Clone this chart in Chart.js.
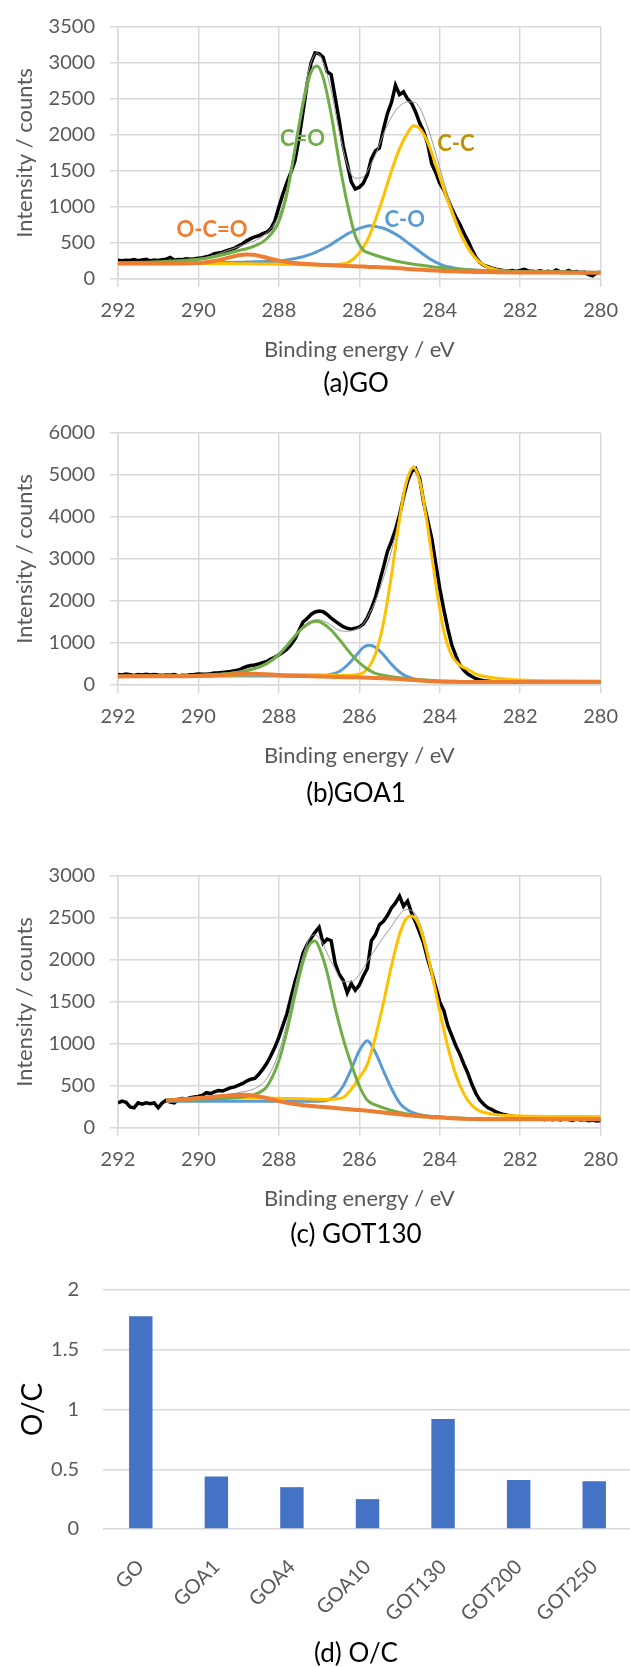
<!DOCTYPE html>
<html>
<head>
<meta charset="utf-8">
<title>C1s XPS spectra and O/C ratio</title>
<script src="https://cdn.jsdelivr.net/npm/chart.js@4.4.1/dist/chart.umd.min.js"></script>
<style>
  html, body { margin: 0; padding: 0; background: #fff; width: 630px; height: 1667px; overflow: hidden; }
  body { position: relative; }
  canvas { position: absolute; left: 0; }
  .caption { position: absolute; left: 0; width: 712px; text-align: center; font-family: Lato, "Open Sans", sans-serif; font-size: 26px; line-height: 30px; color: #000; }
</style>
</head>
<body>
<canvas id="chartGO" width="630" height="395" style="top:0px"></canvas>
<div class="caption" style="top:367px">(a)GO</div>
<canvas id="chartGOA1" width="630" height="395" style="top:406px"></canvas>
<div class="caption" style="top:777px">(b)GOA1</div>
<canvas id="chartGOT130" width="630" height="395" style="top:849px"></canvas>
<div class="caption" style="top:1218px">(c) GOT130</div>
<canvas id="chartOC" width="640" height="417" style="top:1250px"></canvas>
<div class="caption" style="top:1637px">(d) O/C</div>

<script>
// Binding energy of the measured points (same for all three spectra)
const rawEnergy = [
  292.0, 291.9, 291.8, 291.7, 291.6, 291.5, 291.4, 291.3, 291.2, 291.1,
  291.0, 290.9, 290.8, 290.7, 290.6, 290.5, 290.4, 290.3, 290.2, 290.1,
  290.0, 289.9, 289.8, 289.7, 289.6, 289.5, 289.4, 289.3, 289.2, 289.1,
  289.0, 288.9, 288.8, 288.7, 288.6, 288.5, 288.4, 288.3, 288.2, 288.1,
  288.0, 287.9, 287.8, 287.7, 287.6, 287.5, 287.4, 287.3, 287.2, 287.1,
  287.0, 286.9, 286.8, 286.7, 286.6, 286.5, 286.4, 286.3, 286.2, 286.1,
  286.0, 285.9, 285.8, 285.7, 285.6, 285.5, 285.4, 285.3, 285.2, 285.1,
  285.0, 284.9, 284.8, 284.7, 284.6, 284.5, 284.4, 284.3, 284.2, 284.1,
  284.0, 283.9, 283.8, 283.7, 283.6, 283.5, 283.4, 283.3, 283.2, 283.1,
  283.0, 282.9, 282.8, 282.7, 282.6, 282.5, 282.4, 282.3, 282.2, 282.1,
  282.0, 281.9, 281.8, 281.7, 281.6, 281.5, 281.4, 281.3, 281.2, 281.1,
  281.0, 280.9, 280.8, 280.7, 280.6, 280.5, 280.4, 280.3, 280.2, 280.1,
  280.0
];

// (a) GO - measured counts
const rawGO = [
  260, 255, 262, 258, 270, 255, 265, 272, 250, 262,
  258, 266, 275, 300, 262, 270, 268, 282, 276, 280,
  290, 295, 310, 325, 352, 360, 372, 395, 410, 430,
  460, 490, 530, 560, 585, 600, 630, 650, 700, 810,
  1000, 1180, 1340, 1480, 1640, 1950, 2320, 2700, 3000, 3140,
  3130, 3080, 2880, 2840, 2520, 2200, 1850, 1600, 1350, 1250,
  1275, 1330, 1450, 1670, 1780, 1820, 2080, 2300, 2450, 2690,
  2560, 2600, 2500, 2440, 2320, 2170, 2050, 1880, 1600, 1480,
  1330, 1240, 1110, 980, 860, 760, 640, 530, 410, 300,
  230, 190, 170, 150, 135, 125, 115, 110, 118, 105,
  120, 135, 112, 108, 100, 115, 98, 108, 95, 125,
  100, 90, 118, 95, 105, 88, 95, 60, 45, 85,
  95
];

// (a) GO - fitted curves
const fitEnergyGO = [292, 291, 290, 289.6, 289.3, 289, 288.8, 288.6, 288.3, 288,
  287.8, 287.6, 287.4, 287.2, 287.05, 286.9, 286.7, 286.5, 286.3, 286.1,
  285.9, 285.75, 285.6, 285.4, 285.2, 285, 284.8, 284.65, 284.5, 284.3, 284.1,
  283.9, 283.7, 283.5, 283.3, 283.1, 282.9, 282.6, 282.2, 281.5, 280.8, 280];
const envGO = [230, 240, 280, 330, 390, 450, 490, 530, 640, 880,
  1250, 1870, 2520, 3010, 3140, 3010, 2620, 2050, 1590, 1400,
  1420, 1550, 1720, 2010, 2250, 2400, 2460, 2460, 2380, 2110, 1750,
  1350, 1000, 700, 470, 310, 210, 140, 110, 100, 96, 93];
const coGO = [225, 240, 275, 310, 350, 395, 420, 460, 560, 800,
  1185, 1795, 2431, 2873, 2960, 2800, 2288, 1626, 1050, 600,
  400, 360, 330, 295, 265, 240, 220, 205, 195, 180, 165,
  155, 145, 135, 128, 122, 117, 110, 104, 98, 95, 92];
const cohGO = [215, 218, 222, 225, 228, 232, 235, 238, 243, 250,
  265, 285, 310, 345, 380, 420, 480, 555, 625, 680,
  720, 738, 730, 705, 655, 590, 505, 445, 380, 300, 235,
  185, 160, 140, 130, 122, 117, 110, 104, 98, 95, 92];
const ccGO = [212, 212, 215, 215, 214, 213, 212, 210, 207, 204,
  202, 200, 198, 196, 195, 194, 195, 205, 225, 300,
  440, 600, 820, 1150, 1500, 1810, 2030, 2130, 2090, 1900, 1590,
  1250, 930, 650, 430, 280, 190, 130, 105, 96, 93, 90];
const oocGO = [215, 215, 222, 250, 290, 330, 342, 335, 295, 255,
  235, 222, 212, 205, 200, 196, 190, 185, 180, 176,
  172, 168, 165, 160, 155, 148, 140, 135, 130, 123, 117,
  112, 108, 104, 101, 98, 96, 94, 92, 90, 88, 87];

// (b) GOA1 - measured counts
const rawGOA1 = [
  250, 240, 262, 245, 228, 250, 238, 255, 240, 252,
  236, 228, 240, 235, 250, 215, 232, 228, 245, 250,
  262, 255, 258, 270, 285, 290, 300, 310, 320, 340,
  355, 400, 440, 465, 475, 500, 530, 560, 620, 660,
  720, 780, 850, 960, 1100, 1300, 1500, 1580, 1680, 1740,
  1760, 1745, 1680, 1590, 1520, 1450, 1390, 1350, 1330, 1350,
  1380, 1450, 1600, 1820, 2080, 2450, 2800, 3180, 3420, 3700,
  4050, 4480, 4850, 5080, 5150, 4920, 4350, 3920, 3500, 2900,
  2300, 1800, 1350, 950, 700, 480, 350, 260, 200, 150,
  120, 100, 90, 82, 80, 78, 75, 78, 74, 72,
  75, 70, 73, 72, 70, 74, 71, 73, 70, 72,
  71, 74, 70, 72, 75, 73, 70, 72, 75, 78,
  80
];

// (b) GOA1 - fitted curves
const fitEnergyGOA1 = [292, 291, 290, 289.5, 289, 288.6, 288.3, 288, 287.8, 287.6,
  287.4, 287.2, 287.05, 286.9, 286.7, 286.5, 286.3, 286.1, 285.9, 285.75,
  285.6, 285.4, 285.2, 285, 284.85, 284.65, 284.5, 284.3, 284.1, 283.9,
  283.7, 283.5, 283.3, 283.1, 282.8, 282.4, 281.8, 281, 280];
const envGOA1 = [215, 222, 240, 270, 330, 420, 540, 760, 970, 1200,
  1400, 1525, 1555, 1530, 1420, 1300, 1280, 1320, 1450, 1700,
  1990, 2550, 3200, 4020, 4700, 5220, 4900, 3820, 2470, 1330,
  720, 480, 360, 250, 180, 140, 112, 100, 95];
const coGOA1 = [210, 215, 230, 255, 300, 390, 510, 723, 935, 1165,
  1364, 1490, 1515, 1462, 1310, 1088, 847, 624, 448, 349,
  277, 230, 195, 170, 155, 140, 128, 115, 103, 95,
  90, 85, 82, 80, 78, 76, 74, 72, 70];
const cohGOA1 = [205, 207, 210, 212, 214, 214, 213, 212, 211, 210,
  209, 208, 208, 220, 255, 320, 470, 680, 896, 948,
  900, 721, 495, 309, 217, 147, 115, 98, 87, 80,
  76, 73, 71, 70, 70, 70, 70, 70, 70];
const ccGOA1 = [208, 212, 220, 228, 238, 244, 246, 247, 247, 247,
  246, 244, 242, 240, 235, 228, 228, 242, 290, 443,
  738, 1470, 2614, 3944, 4760, 5180, 4860, 3770, 2420, 1295,
  700, 470, 370, 260, 190, 145, 115, 100, 95];
const oocGOA1 = [205, 208, 215, 235, 262, 265, 255, 240, 228, 220,
  213, 208, 205, 200, 195, 190, 186, 182, 177, 173,
  168, 160, 150, 140, 130, 118, 108, 96, 86, 80,
  76, 73, 71, 70, 70, 70, 70, 70, 70];

// (c) GOT130 - measured counts
const rawGOT130 = [
  300, 320, 305, 250, 240, 300, 285, 300, 290, 298,
  240, 300, 330, 310, 300, 340, 350, 345, 360, 370,
  375, 390, 420, 410, 430, 445, 440, 460, 480, 490,
  510, 530, 560, 580, 590, 640, 700, 770, 860, 960,
  1080, 1220, 1360, 1550, 1740, 1900, 2080, 2180, 2260, 2330,
  2390, 2200, 2250, 2230, 1960, 1830, 1760, 1610, 1720, 1640,
  1700, 1810, 1900, 2230, 2300, 2420, 2460, 2530, 2620, 2680,
  2760, 2640, 2700, 2560, 2450, 2330, 2200, 2010, 1850, 1680,
  1500, 1400, 1220, 1100, 980, 880, 760, 650, 520, 410,
  330, 280, 240, 220, 190, 175, 160, 150, 140, 130,
  120, 125, 110, 118, 105, 112, 100, 115, 98, 108,
  95, 112, 100, 90, 108, 95, 102, 88, 96, 85,
  90
];

// (c) GOT130 - fitted curves
const fitEnergyGOT130 = [290.8, 290.4, 290, 289.6, 289.2, 288.9, 288.6, 288.3, 288, 287.8,
  287.6, 287.4, 287.25, 287.1, 286.95, 286.8, 286.6, 286.4, 286.2, 286,
  285.8, 285.6, 285.4, 285.2, 285, 284.85, 284.7, 284.55, 284.4, 284.2,
  284, 283.8, 283.6, 283.4, 283.2, 283, 282.7, 282.3, 281.7, 281, 280];
const envGOT130 = [345, 355, 370, 385, 405, 430, 470, 590, 900, 1250,
  1680, 2050, 2250, 2300, 2230, 2080, 1890, 1740, 1740, 1830,
  1980, 2130, 2270, 2400, 2540, 2600, 2590, 2500, 2300, 1880,
  1420, 990, 650, 420, 280, 210, 170, 150, 142, 138, 136];
const coGOT130 = [338, 342, 345, 350, 358, 370, 400, 492, 800, 1153,
  1581, 1978, 2173, 2226, 2088, 1853, 1429, 1060, 760, 500,
  330, 275, 240, 210, 185, 170, 158, 150, 143, 136,
  130, 125, 120, 116, 112, 110, 108, 106, 105, 105, 105];
const cohGOT130 = [317, 318, 318, 318, 318, 318, 318, 318, 318, 318,
  318, 318, 318, 318, 320, 330, 380, 500, 700, 920,
  1040, 898, 680, 470, 300, 230, 190, 165, 150, 138,
  130, 122, 116, 111, 108, 106, 105, 105, 105, 105, 105];
const ccGOT130 = [336, 342, 348, 352, 355, 356, 356, 356, 354, 352,
  350, 348, 345, 342, 340, 340, 345, 364, 460, 600,
  758, 1082, 1492, 1931, 2304, 2480, 2524, 2449, 2247, 1850,
  1391, 968, 634, 406, 268, 200, 165, 148, 140, 137, 135];
const oocGOT130 = [325, 340, 356, 372, 388, 395, 385, 355, 320, 300,
  285, 272, 265, 258, 252, 246, 238, 230, 221, 213,
  205, 195, 185, 173, 163, 155, 148, 142, 136, 129,
  124, 118, 113, 109, 106, 105, 105, 105, 105, 105, 105];

// Peak labels on the GO spectrum (energy, counts)
const peakLabelText = ['C=O', 'C-C', 'C-O', 'O-C=O'];
const peakLabelEnergy = [287.41, 283.6, 284.87, 289.66];
const peakLabelCounts = [1945, 1870, 815, 685];
const peakLabelColor = ['#70AD47', '#BF9000', '#5B9BD5', '#ED7D31'];

// (d) O/C ratio
const samples = ['GO', 'GOA1', 'GOA4', 'GOA10', 'GOT130', 'GOT200', 'GOT250'];
const ratioOC = [1.78, 0.44, 0.35, 0.25, 0.92, 0.41, 0.40];

const GRID = '#d9d9d9';
const TEXT = '#595959';

Chart.defaults.font.family = 'Lato, "Open Sans", sans-serif';
Chart.defaults.color = TEXT;

// Turn an energy list and a value list into a line dataset
function series(xs, ys, color, width, order, smooth) {
    return {
        data: xs.map((x, i) => ({ x: x, y: ys[i] })),
        showLine: true,
        borderColor: color,
        borderWidth: width,
        pointRadius: 0,
        fill: false,
        order: order,
        cubicInterpolationMode: smooth ? 'monotone' : 'default',
        tension: 0
    };
}

// Draw the coloured component names over the GO spectrum
const peakLabelPlugin = {
    id: 'peakLabels',
    afterDatasetsDraw(chart) {
        const { ctx, scales: { x, y } } = chart;
        ctx.save();
        ctx.font = 'bold 22px Lato, "Open Sans", sans-serif';
        ctx.textAlign = 'center';
        ctx.textBaseline = 'middle';
        peakLabelText.forEach((t, i) => {
            ctx.fillStyle = peakLabelColor[i];
            ctx.fillText(t, x.getPixelForValue(peakLabelEnergy[i]), y.getPixelForValue(peakLabelCounts[i]));
        });
        ctx.restore();
    }
};

// One XPS panel
function spectrumChart(id, raw, fitX, env, co, coh, cc, ooc, yMax, yStep, plugins) {
    new Chart(document.getElementById(id), {
        type: 'scatter',
        data: {
            datasets: [
                series(rawEnergy, raw, '#000000', 3.5, 7, false),
                series(fitX, env, '#9a9a9a', 1, 6, true),
                series(fitX, coh, '#5B9BD5', 3, 5, true),
                series(fitX, cc, '#FFC000', 3, 4, true),
                series(fitX, co, '#70AD47', 3, 3, true),
                series(fitX, ooc, '#ED7D31', 4, 1, true)
            ]
        },
        options: {
            responsive: false,
            animation: false,
            layout: { padding: { top: 22, right: 22, left: 0, bottom: 0 } },
            plugins: { legend: { display: false }, tooltip: { enabled: false } },
            scales: {
                x: {
                    type: 'linear',
                    min: 280,
                    max: 292,
                    reverse: true,
                    ticks: { stepSize: 2, padding: 12, font: { size: 20 }, color: TEXT, callback: v => String(v) },
                    grid: { color: GRID, lineWidth: 1.5, tickLength: 8 },
                    border: { color: GRID, width: 1.5 },
                    title: { display: true, text: 'Binding energy / eV', color: TEXT, font: { size: 22 }, padding: { top: 0, bottom: 32 } },
                    afterFit: s => { s.height = 116; }
                },
                y: {
                    min: 0,
                    max: yMax,
                    ticks: { stepSize: yStep, padding: 15, font: { size: 20 }, color: TEXT, callback: v => String(v) },
                    grid: { color: GRID, lineWidth: 1.5, tickLength: 8 },
                    border: { color: GRID, width: 1.5 },
                    title: { display: true, text: 'Intensity / counts', color: TEXT, font: { size: 22 }, padding: { top: 12, bottom: 0 } },
                    afterFit: s => { s.width = 118; }
                }
            }
        },
        plugins: plugins
    });
}

spectrumChart('chartGO', rawGO, fitEnergyGO, envGO, coGO, cohGO, ccGO, oocGO, 3500, 500, [peakLabelPlugin]);
spectrumChart('chartGOA1', rawGOA1, fitEnergyGOA1, envGOA1, coGOA1, cohGOA1, ccGOA1, oocGOA1, 6000, 1000, []);
spectrumChart('chartGOT130', rawGOT130, fitEnergyGOT130, envGOT130, coGOT130, cohGOT130, ccGOT130, oocGOT130, 3000, 500, []);

// O/C bar chart
new Chart(document.getElementById('chartOC'), {
    type: 'bar',
    data: {
        labels: samples,
        datasets: [{
            data: ratioOC,
            backgroundColor: '#4472C4',
            barPercentage: 0.31,
            categoryPercentage: 1
        }]
    },
    options: {
        responsive: false,
        animation: false,
        layout: { padding: { top: 40, right: 8, left: 0, bottom: 0 } },
        plugins: { legend: { display: false }, tooltip: { enabled: false } },
        scales: {
            x: {
                ticks: { minRotation: 45, maxRotation: 45, padding: 18, font: { size: 20 }, color: TEXT },
                grid: { display: false },
                border: { display: false },
                afterFit: s => { s.height = 138; }
            },
            y: {
                min: 0,
                max: 2,
                ticks: { stepSize: 0.5, padding: 24, font: { size: 20 }, color: TEXT, callback: v => String(v) },
                grid: { color: GRID, lineWidth: 1.5, drawTicks: false },
                border: { display: false },
                title: { display: true, text: 'O/C', color: '#000', font: { size: 28 }, padding: { top: 16, bottom: 0 } },
                afterFit: s => { s.width = 103; }
            }
        }
    }
});
</script>
</body>
</html>
